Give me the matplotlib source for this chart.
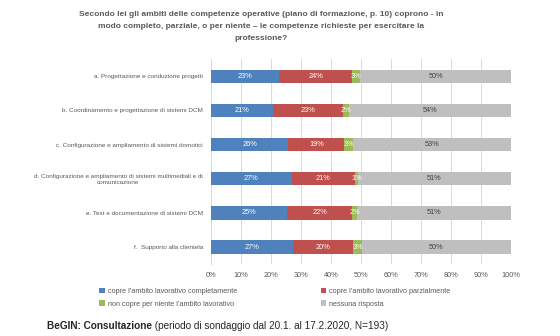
import matplotlib.pyplot as plt
import matplotlib.ticker as ticker
import numpy as np

categories = [
    "a. Progettazione e conduzione progetti",
    "b. Coordinamento e progettazione di sistemi DCM",
    "c. Configurazione e ampliamento di sistemi domotici",
    "d. Configurazione e ampliamento di sistemi multimediali e di\ncomunicazione",
    "e. Test e documentazione di sistemi DCM",
    "f.  Supporto alla clientela",
]
completo = [22.8, 20.6, 25.8, 26.9, 25.3, 27.4]
parziale = [24.3, 23.3, 18.6, 21.1, 21.8, 20.0]
per_niente = [2.6, 2.1, 2.9, 0.9, 1.7, 2.9]
nessuna = [50.3, 54.0, 52.8, 51.1, 51.2, 49.7]

series_names = [
    "copre l’ambito lavorativo completamente",
    "copre l’ambito lavorativo parzialmente",
    "non copre per niente l’ambito lavorativo",
    "nessuna risposta",
]
colors = ["#4F81BD", "#C0504D", "#9BBB59", "#BFBFBF"]
text_colors = ["white", "white", "white", "#404040"]

plt.rcParams['font.family'] = ['Liberation Sans', 'DejaVu Sans']

fig = plt.figure(figsize=(5.6, 3.36), dpi=100)
ax = fig.add_axes([0.377, 0.214, 0.5355, 0.61])

y = np.arange(len(categories))
left = np.zeros(len(categories))
handles = []
for vals, name, col, tcol in zip([completo, parziale, per_niente, nessuna], series_names, colors, text_colors):
    vals = np.array(vals)
    bars = ax.barh(y, vals, left=left, height=0.39, color=col, label=name, zorder=3)
    handles.append(bars)
    for xi, yi, v in zip(left, y, vals):
        ax.text(xi + v / 2, yi, f"{v:.0f}%", ha="center", va="center", color=tcol, fontsize=5.3, zorder=4)
    left = left + vals

ax.set_xlim(0, 100)
ax.set_ylim(5.5, -0.5)
ax.set_yticks(y)
ax.set_yticklabels(categories, fontsize=4.6, color="#595959", multialignment="center")
ax.xaxis.set_major_locator(ticker.MultipleLocator(10))
ax.xaxis.set_major_formatter(ticker.FuncFormatter(lambda v, p: f"{v:.0f}%"))
ax.tick_params(axis="x", labelsize=5.3, labelcolor="#595959", length=0, pad=6)
ax.tick_params(axis="y", length=0, pad=6)
ax.grid(axis="x", color="#D9D9D9", linewidth=0.7, zorder=0)
for s in ["top", "right", "bottom"]:
    ax.spines[s].set_visible(False)
ax.spines["left"].set_color("#D9D9D9")
ax.spines["left"].set_linewidth(0.7)

fig.text(0.467, 0.968, "Secondo lei gli ambiti delle competenze operative (piano di formazione, p. 10) coprono - in\n"
         "modo completo, parziale, o per niente – le competenze richieste per esercitare la\nprofessione?",
         ha="center", va="top", fontsize=6.0, fontweight="bold", color="#595959", linespacing=2.0)

order = [0, 2, 1, 3]
leg = fig.legend([handles[i] for i in order], [series_names[i] for i in order], ncol=2,
                 loc="upper left", bbox_to_anchor=(0.165, 0.163), frameon=False, fontsize=5.2,
                 handlelength=0.8, handleheight=0.8, columnspacing=11.6, labelspacing=0.75,
                 handletextpad=0.4)
for t in leg.get_texts():
    t.set_color("#595959")

t1 = fig.text(0.084, 0.03, "BeGIN: Consultazione", fontsize=7.2, fontweight="bold", color="#262626", va="center")
ax.annotate(" (periodo di sondaggio dal 20.1. al 17.2.2020, N=193)", xy=(1, 0.5), xycoords=t1,
            fontsize=7.2, color="#262626", va="center", ha="left", annotation_clip=False)

fig.savefig("out.png", dpi=100)
